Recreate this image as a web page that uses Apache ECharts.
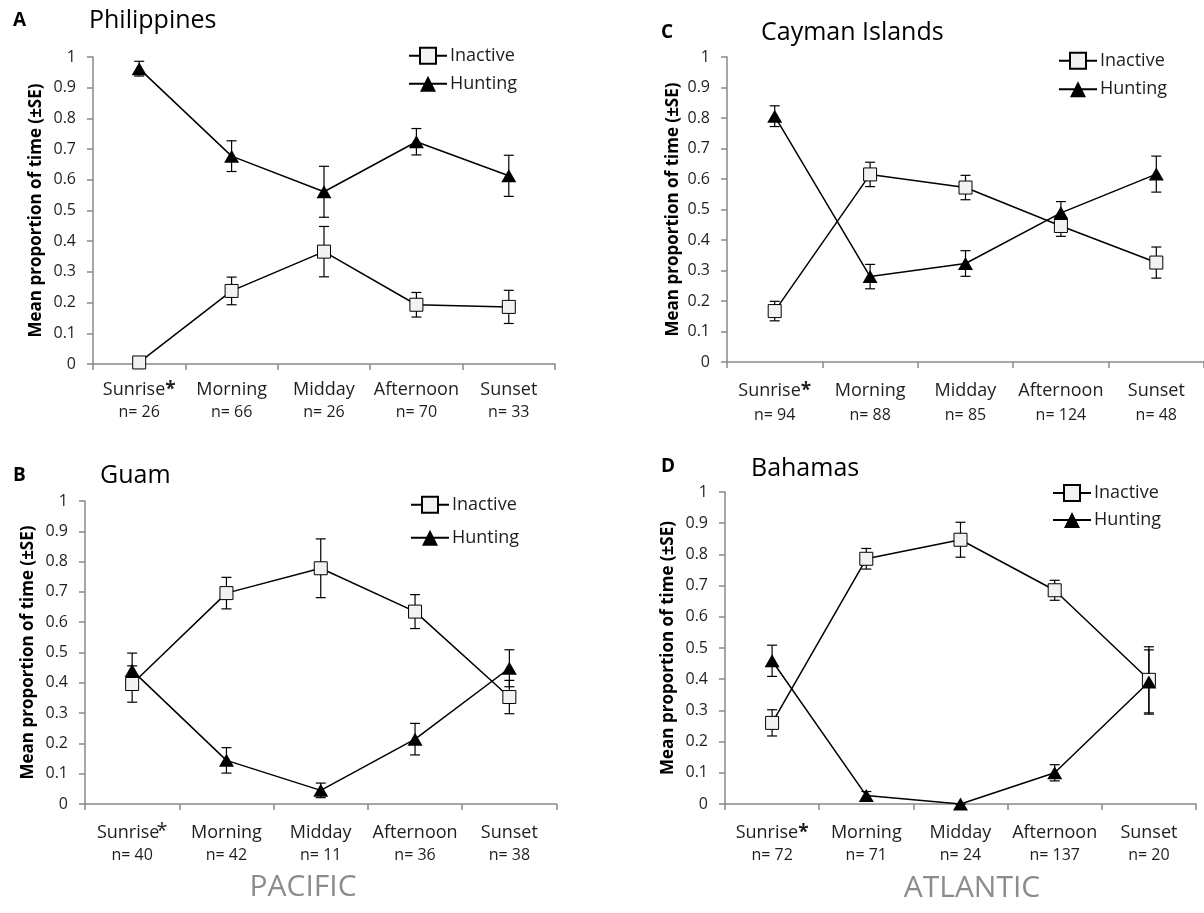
<!DOCTYPE html>
<html>
<head>
<meta charset="utf-8">
<script src="https://cdn.jsdelivr.net/npm/echarts@6/dist/echarts.min.js"></script>
<style>
html,body{margin:0;padding:0;background:#fff;}
#chart{width:1204px;height:913px;}
</style>
</head>
<body>
<div id="chart"></div>
<script>
// ---- data ----
const categories = ['Sunrise*', 'Morning', 'Midday', 'Afternoon', 'Sunset'];
const yTicks = ['0', '0.1', '0.2', '0.3', '0.4', '0.5', '0.6', '0.7', '0.8', '0.9', '1'];

// A: Philippines
const nA = [26, 66, 26, 70, 33];
const inactiveA = [0.005, 0.238, 0.366, 0.193, 0.186];
const inactiveSEA = [0, 0.045, 0.082, 0.040, 0.054];
const huntingA = [0.962, 0.677, 0.561, 0.724, 0.613];
const huntingSEA = [0.024, 0.050, 0.083, 0.043, 0.067];

// B: Guam
const nB = [40, 42, 11, 36, 38];
const inactiveB = [0.396, 0.696, 0.778, 0.635, 0.353];
const inactiveSEB = [0.060, 0.052, 0.097, 0.056, 0.055];
const huntingB = [0.441, 0.144, 0.045, 0.214, 0.448];
const huntingSEB = [0.057, 0.042, 0.024, 0.052, 0.061];

// C: Cayman Islands
const nC = [94, 88, 85, 124, 48];
const inactiveC = [0.167, 0.615, 0.572, 0.446, 0.326];
const inactiveSEC = [0.032, 0.040, 0.040, 0.034, 0.051];
const huntingC = [0.806, 0.280, 0.323, 0.489, 0.616];
const huntingSEC = [0.034, 0.040, 0.042, 0.037, 0.059];

// D: Bahamas
const nD = [72, 71, 24, 137, 20];
const inactiveD = [0.260, 0.786, 0.847, 0.685, 0.398];
const inactiveSED = [0.042, 0.033, 0.056, 0.032, 0.106];
const huntingD = [0.459, 0.027, 0.000, 0.100, 0.391];
const huntingSED = [0.050, 0.013, 0.000, 0.026, 0.103];

const panelLetters = ['A', 'B', 'C', 'D'];
const panelTitles = ['Philippines', 'Guam', 'Cayman Islands', 'Bahamas'];
const oceanLabels = ['PACIFIC', 'ATLANTIC'];
const seriesNames = ['Inactive', 'Hunting'];
const yName = 'Mean proportion of time (\u00B1SE)';

// ---- layout ----
const FONT = '"Open Sans", "Noto Sans", sans-serif';
const LEG_H = 20;
const panels = [
  {grid:{left:93, top:57, width:462, height:307}, n:nA, inc:inactiveA, incSE:inactiveSEA, hun:huntingA, hunSE:huntingSEA,
   legend:{left:408, cy:56.7, pitch:30}, margin:15, lh:22, nameGap:48, sup:false,
   letter:[13,21], title:[89,21]},
  {grid:{left:85, top:501, width:471.5, height:303}, n:nB, inc:inactiveB, incSE:inactiveSEB, hun:huntingB, hunSE:huntingSEB,
   legend:{left:410, cy:505.7, pitch:35}, margin:17, lh:23, nameGap:48, sup:true,
   letter:[13,476], title:[100,476]},
  {grid:{left:727, top:57, width:481.5, height:305}, n:nC, inc:inactiveC, incSE:inactiveSEC, hun:huntingC, hunSE:huntingSEC,
   legend:{left:1058, cy:61.7, pitch:30.6}, margin:17, lh:24, nameGap:45, sup:false,
   letter:[661,33], title:[761,33]},
  {grid:{left:725, top:492, width:471, height:312}, n:nD, inc:inactiveD, incSE:inactiveSED, hun:huntingD, hunSE:huntingSED,
   legend:{left:1052, cy:494, pitch:29}, margin:17, lh:23, nameGap:48, sup:false,
   letter:[661,467], title:[751,469]}
];

const AXIS_COLOR = '#898989';
const TEXT_COLOR = '#1e1e1e';

function errData(mean, se) {
  return mean.map((m, i) => [i, m - se[i], m + se[i]]);
}

function renderErr(params, api) {
  const x = api.value(0);
  const lo = api.coord([x, api.value(1)]);
  const hi = api.coord([x, api.value(2)]);
  const w = 5;
  const st = {stroke:'#000', lineWidth:1.2};
  return {type:'group', children:[
    {type:'line', shape:{x1:lo[0], y1:lo[1], x2:hi[0], y2:hi[1]}, style:st},
    {type:'line', shape:{x1:lo[0]-w, y1:lo[1], x2:lo[0]+w, y2:lo[1]}, style:st},
    {type:'line', shape:{x1:hi[0]-w, y1:hi[1], x2:hi[0]+w, y2:hi[1]}, style:st}
  ]};
}

const grids = [], xAxes = [], yAxes = [], series = [], legends = [], graphics = [];

panels.forEach((p, k) => {
  grids.push(p.grid);
  xAxes.push({
    type:'category', gridIndex:k, data:categories, boundaryGap:true,
    axisLine:{lineStyle:{color:AXIS_COLOR, width:1.5}},
    axisTick:{show:true, length:6, lineStyle:{color:AXIS_COLOR, width:1.5}},
    axisLabel:{interval:0, margin:p.margin, color:TEXT_COLOR, fontFamily:FONT, fontSize:18, lineHeight:p.lh,
      formatter:(v, i) => v.replace('*', p.sup ? '{s|*}' : '{b|*}') + '\n{n|n= ' + p.n[i] + '}',
      rich:{
        n:{fontFamily:FONT, fontSize:16, color:TEXT_COLOR, lineHeight:p.lh},
        b:{fontFamily:FONT, fontSize:19, fontWeight:'bold', color:TEXT_COLOR, lineHeight:p.lh},
        s:{fontFamily:FONT, fontSize:20, color:TEXT_COLOR, lineHeight:p.lh, verticalAlign:'top', padding:[0,0,0,-3]}
      }},
    splitLine:{show:false}
  });
  yAxes.push({
    type:'value', gridIndex:k, min:0, max:1, interval:0.1,
    name:yName, nameLocation:'middle', nameRotate:90, nameGap:p.nameGap,
    nameTextStyle:{fontFamily:FONT, fontWeight:'bold', fontSize:17, color:'#000'},
    axisLine:{show:true, lineStyle:{color:AXIS_COLOR, width:1.5}},
    axisTick:{show:true, length:6, lineStyle:{color:AXIS_COLOR, width:1.5}},
    axisLabel:{margin:17, color:TEXT_COLOR, fontFamily:FONT, fontSize:16,
      formatter:(v) => yTicks[Math.round(v * 10)]},
    splitLine:{show:false}
  });
  series.push({
    type:'custom', name:'errInactive'+k, xAxisIndex:k, yAxisIndex:k, z:1,
    renderItem:renderErr, data:errData(p.inc, p.incSE), encode:{x:0, y:[1,2]}, silent:true
  });
  series.push({
    type:'custom', name:'errHunting'+k, xAxisIndex:k, yAxisIndex:k, z:1,
    renderItem:renderErr, data:errData(p.hun, p.hunSE), encode:{x:0, y:[1,2]}, silent:true
  });
  series.push({
    type:'line', name:seriesNames[0], xAxisIndex:k, yAxisIndex:k, z:3, data:p.inc,
    symbol:'rect', symbolSize:13, showAllSymbol:true,
    itemStyle:{color:'#f2f2f2', borderColor:'#000', borderWidth:1},
    lineStyle:{color:'#000', width:1.5}
  });
  series.push({
    type:'line', name:seriesNames[1], xAxisIndex:k, yAxisIndex:k, z:4, data:p.hun,
    symbol:'triangle', symbolSize:[15,13], showAllSymbol:true,
    itemStyle:{color:'#000', borderColor:'#000', borderWidth:0},
    lineStyle:{color:'#000', width:1.5}
  });
  legends.push({
    left:p.legend.left, top:p.legend.cy - LEG_H / 2, orient:'vertical', padding:0,
    itemWidth:38, itemHeight:LEG_H, itemGap:p.legend.pitch - LEG_H, selectedMode:false,
    data:seriesNames,
    textStyle:{fontFamily:FONT, fontSize:18, color:TEXT_COLOR, lineHeight:18, padding:[0,0,0,-2]}
  });
  graphics.push({type:'text', x:p.letter[0], y:p.letter[1],
    style:{text:panelLetters[k], font:'bold 19px ' + FONT, fill:'#000', textAlign:'left', textVerticalAlign:'middle'}});
  graphics.push({type:'text', x:p.title[0], y:p.title[1],
    style:{text:panelTitles[k], font:'25px ' + FONT, fill:'#000', textAlign:'left', textVerticalAlign:'middle'}});
});

graphics.push({type:'text', x:303, y:887,
  style:{text:oceanLabels[0], font:'30px ' + FONT, fill:'#8c8c8c', textAlign:'center', textVerticalAlign:'middle'}});
graphics.push({type:'text', x:972, y:888,
  style:{text:oceanLabels[1], font:'30px ' + FONT, fill:'#8c8c8c', textAlign:'center', textVerticalAlign:'middle'}});

const chart = echarts.init(document.getElementById('chart'), null, {renderer:'canvas'});
chart.setOption({
  animation:false,
  backgroundColor:'#ffffff',
  grid:grids, xAxis:xAxes, yAxis:yAxes, series:series, legend:legends, graphic:graphics
});
</script>
</body>
</html>
